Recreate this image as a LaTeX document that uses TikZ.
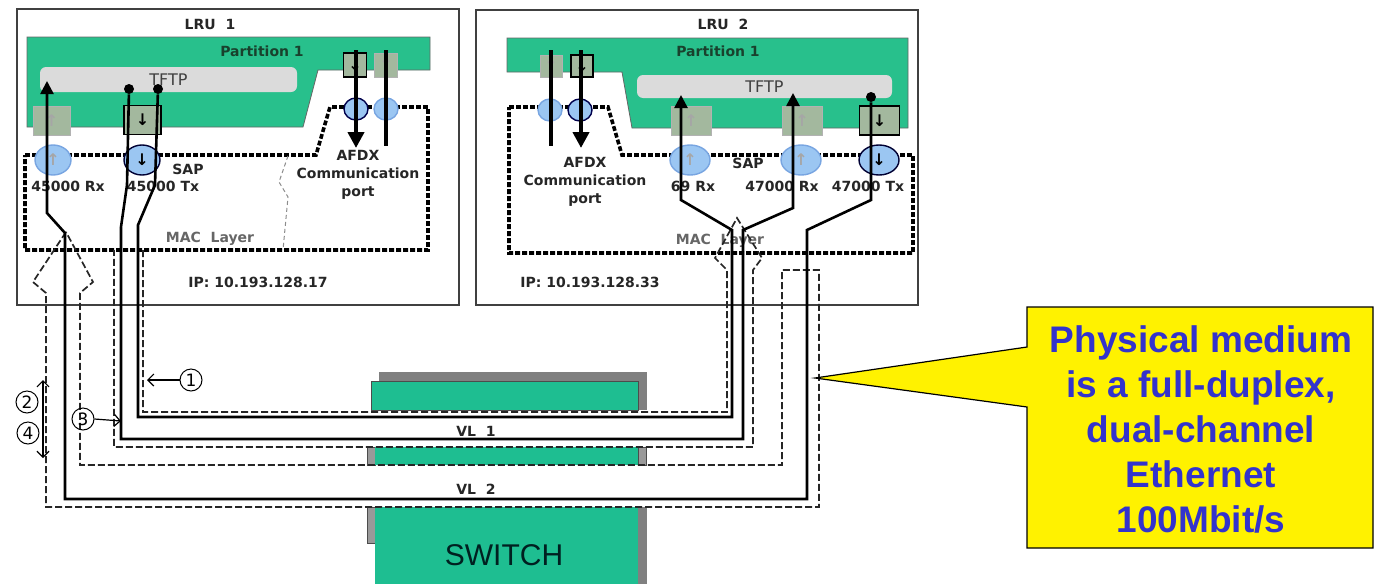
\documentclass[tikz,border=0pt]{standalone}
\usepackage{fontspec}
\setmainfont{DejaVu Sans}
\newfontfamily\arialfont{Liberation Sans}
\usepackage{tikz}
\usetikzlibrary{arrows.meta,shapes.geometric,positioning}
\definecolor{partgreen}{RGB}{40,192,140}
\definecolor{switchgreen}{RGB}{30,190,145}
\definecolor{portgray}{RGB}{163,184,158}
\definecolor{sapblue}{RGB}{155,198,242}
\definecolor{sapedge}{RGB}{120,165,225}
\definecolor{calloutblue}{RGB}{51,51,204}
\definecolor{labelgreen}{RGB}{25,65,45}

\begin{document}
\begin{tikzpicture}[x=0.5pt,y=-0.5pt,
		lbl/.style={font=\fontsize{7}{9}\selectfont\bfseries,text=black!85,inner sep=0pt},
		lru/.style={draw=black!75,line width=0.6pt,fill=white},
		part/.style={draw=black!60,line width=0.4pt,fill=partgreen},
		tftp/.style={fill=black!14,rounded corners=3pt,inner sep=0pt,font=\fontsize{8}{8}\selectfont,text=black!75},
		port/.style={draw=black!30,fill=portgray,minimum width=18.5pt,minimum height=14.5pt,inner sep=0pt,font=\fontsize{8}{8}\selectfont\bfseries,text=black!35},
		porton/.style={port,draw=black,line width=0.7pt,text=black},
		sap/.style={ellipse,draw=sapedge,fill=sapblue,minimum width=18pt,minimum height=15pt,inner sep=0pt,line width=0.7pt,font=\fontsize{8}{8}\selectfont\bfseries,text=black!35},
		sapon/.style={sap,draw=black!80!blue,text=black},
		mac/.style={line width=1.8pt,dash pattern=on 2.4pt off 1.1pt},
		vl/.style={line width=1.3pt},
		rxtip/.style={-{Triangle[length=6.5pt,width=6.5pt]}},
		afdx/.style={line width=2pt},
		ret/.style={line width=0.85pt,dash pattern=on 3.5pt off 1.5pt,black!85},
		edge/.style={line width=0.5pt,dash pattern=on 2pt off 1.5pt,black!45},
		txdot/.style={circle,fill=black,minimum size=5pt,inner sep=0pt},
		num/.style={circle,draw,line width=0.5pt,minimum size=11pt,inner sep=0pt,font=\fontsize{8.5}{8.5}\selectfont},
		numarrow/.style={line width=0.6pt,-{Straight Barb[length=3pt]}}]

	\useasboundingbox (0,0) rectangle (1374,584);

	% LRU 1
	\draw[lru] (17,9) rectangle (459,305);
	\node[lbl] (lru1) at (210,24) {LRU\ \ 1};
	\draw[part] (27,37) -- (430,37) -- (430,70) -- (318,70) -- (303,127) -- (27,127) -- cycle;
	\node[lbl,text=labelgreen] (part1) at (262,51) {Partition 1};
	\node[tftp,minimum width=128.5pt,minimum height=12.5pt] (tftp1) at (168.5,79.5) {TFTP};
	\draw[mac] (25,155) -- (316,155) -- (330,107) -- (428,107) -- (428,250) -- (25,250) -- cycle;
	\draw[edge] (288,156) -- (279,182) -- (288,197) -- (283,250);
	\node[port] (rx1p) at (51.5,120.5) {↑};
	\node[porton] (tx1p) at (142.5,120) {↓};
	\node[porton,minimum width=11.5pt,minimum height=12pt] (af1p) at (355,65) {↓};
	\node[port,minimum width=11.5pt,minimum height=12pt] (af1q) at (386,65) {↑};
	\node[sap] (rx1s) at (53,160) {↑};
	\node[sapon] (tx1s) at (142,160) {↓};
	\node[sap,draw=black!70!blue,minimum width=12pt,minimum height=11pt] (af1s) at (356,109) {};
	\node[sap,minimum width=12pt,minimum height=11pt] (af1t) at (386,109) {};
	\node[lbl] (sap1) at (188,169) {SAP};
	\node[lbl] (rx1l) at (68,186) {45000 Rx};
	\node[lbl] (tx1l) at (163,186) {45000 Tx};
	\node[lbl,align=center] (afdx1) at (358,175) {AFDX\\Communication\\port};
	\node[lbl,text=black!60] (mac1) at (210,239) {MAC\ \ Layer};
	\node[lbl] (ip1) at (258,282) {IP: 10.193.128.17};

	% LRU 2
	\draw[lru] (476,10) rectangle (918,305);
	\node[lbl] (lru2) at (723,24) {LRU\ \ 2};
	\draw[part] (507,38) -- (908,38) -- (908,128) -- (632,128) -- (622,72) -- (507,72) -- cycle;
	\node[lbl,text=labelgreen] (part2) at (718,51) {Partition 1};
	\node[tftp,minimum width=127.5pt,minimum height=11.5pt] (tftp2) at (764.5,86.5) {TFTP};
	\draw[mac] (509,107) -- (608,107) -- (622,155) -- (913,155) -- (913,253) -- (509,253) -- cycle;
	\node[port,minimum width=11pt,minimum height=11pt] (af2q) at (551,66) {↑};
	\node[porton,minimum width=11pt,minimum height=11pt] (af2p) at (582,66) {↓};
	\node[port,minimum width=20pt] (rx2p) at (691,120.5) {↑};
	\node[port,minimum width=20pt] (rx3p) at (802,120.5) {↑};
	\node[porton,minimum width=20pt] (tx2p) at (879.5,120.5) {↓};
	\node[sap,minimum width=12pt,minimum height=11pt] (af2t) at (550,110) {};
	\node[sap,draw=black!70!blue,minimum width=12pt,minimum height=11pt] (af2s) at (580,110) {};
	\node[sap,minimum width=20pt] (rx2s) at (690,160) {↑};
	\node[sap,minimum width=20pt] (rx3s) at (801,160) {↑};
	\node[sapon,minimum width=20pt] (tx2s) at (879,160) {↓};
	\node[lbl] (sap2) at (748,163) {SAP};
	\node[lbl] (rx2l) at (693,186) {69 Rx};
	\node[lbl] (rx3l) at (782,186) {47000 Rx};
	\node[lbl] (tx2l) at (868,186) {47000 Tx};
	\node[lbl,align=center] (afdx2) at (585,182) {AFDX\\Communication\\port};
	\node[lbl,text=black!60] (mac2) at (720,241) {MAC\ \ Layer};
	\node[lbl] (ip2) at (590,282) {IP: 10.193.128.33};

	% switch
	\fill[black!50] (379,372) rectangle (647,410);
	\draw[black!70,fill=switchgreen] (371,381) rectangle (638,410);
	\draw[black!70,fill=black!40] (367,447) rectangle (375,465);
	\draw[black!70,fill=black!40] (638,447) rectangle (646,465);
	\fill[switchgreen] (375,447) rectangle (638,465);
	\draw[black!70,fill=black!40] (367,507) rectangle (375,543);
	\fill[black!50] (638,507) rectangle (647,584);
	\fill[switchgreen] (375,507) rectangle (638,584);
	\node[font=\arialfont\fontsize{15}{15}\selectfont,text=black!75!teal] (sw) at (504,555) {SWITCH};
	\node[lbl] (vl1) at (476,431) {VL\ \ 1};
	\node[lbl] (vl2) at (476,489) {VL\ \ 2};

	% AFDX ports
	\coordinate (af1top) at (356,50);  \coordinate (af1bot) at (356,148);
	\coordinate (af1utop) at (386,50); \coordinate (af1ubot) at (386,146);
	\coordinate (af2top) at (581,50);  \coordinate (af2bot) at (581,148);
	\coordinate (af2utop) at (551,50); \coordinate (af2ubot) at (551,146);
	\draw[afdx,-{Triangle[length=8pt,width=8pt]}] (af1top) -- (af1bot);
	\draw[afdx] (af1utop) -- (af1ubot);
	\draw[afdx,-{Triangle[length=8pt,width=8pt]}] (af2top) -- (af2bot);
	\draw[afdx] (af2utop) -- (af2ubot);

	% return paths
	\coordinate (c1) at (143,250);
	\coordinate (c3) at (114,250);
	\coordinate (c2) at (66,232);
	\draw[ret] (c1) -- (143,412) -- (727,412) -- (727,270) -- (715,258) -- (737,218)
		-- (762,258) -- (753,270) -- (753,447) -- (114,447) -- (c3);
	\draw[ret] (c2) -- (33,282) -- (46,293) -- (46,507) -- (819,507) -- (819,270) -- (782,270)
		-- (782,465) -- (80,465) -- (80,293) -- (93,282) -- cycle;

	% virtual links
	\node[txdot] (t1a) at (129,89) {};
	\node[txdot] (t1b) at (158,89) {};
	\node[txdot] (t2) at (871,97) {};
	\coordinate (r1) at (47,81);
	\coordinate (r2a) at (681,95);
	\coordinate (r2b) at (793,93);
	\draw[vl,rxtip] (t1a) -- (127,185) -- (121,227) -- (121,439) -- (743,439) -- (743,230) -- (793,208) -- (r2b);
	\draw[vl,rxtip] (t1b) -- (155,185) -- (138,225) -- (138,417) -- (732,417) -- (732,230) -- (681,200) -- (r2a);
	\draw[vl,rxtip] (t2) -- (871,200) -- (807,230) -- (807,499) -- (65,499) -- (65,233) -- (47,213) -- (r1);

	% numbering
	\node[num] (n1) at (191,380) {1};
	\node[num] (n2) at (27,402) {2};
	\node[num] (n3) at (83,419) {3};
	\node[num] (n4) at (28,433) {4};
	\coordinate (a1) at (147,380);
	\coordinate (a3) at (121,421);
	\coordinate (a2) at (43,380);
	\coordinate (a4) at (43,458);
	\draw[numarrow] (n1) -- (a1);
	\draw[numarrow] (n3.east) -- (a3);
	\draw[numarrow,{Straight Barb[length=3pt]}-{Straight Barb[length=3pt]}] (a2) -- (a4);

	% callout
	\coordinate (tip) at (815,378);
	\draw[line width=0.6pt,fill=yellow] (1027,307) -- (1373,307) -- (1373,548) -- (1027,548) -- (1027,407) -- (tip) -- (1027,347) -- cycle;
	\node[align=center,font=\arialfont\bfseries\fontsize{18.5}{22.5}\selectfont,text=calloutblue] (note) at (1201,429)
		{Physical medium\\is a full-duplex,\\dual-channel\\Ethernet\\100Mbit/s};
\end{tikzpicture}
\end{document}
